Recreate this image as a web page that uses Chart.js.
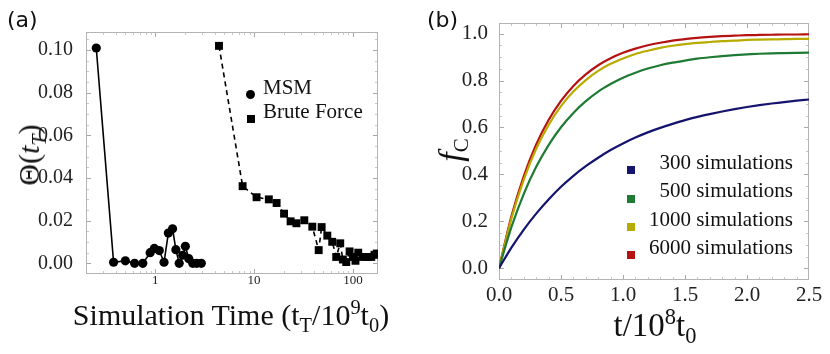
<!DOCTYPE html>
<html><head><meta charset="utf-8">
<script src="https://cdn.jsdelivr.net/npm/chart.js@4.4.1/dist/chart.umd.min.js"></script>
<style>
html,body{margin:0;padding:0;background:#fff;}
#wrap{position:relative;width:830px;height:354px;overflow:hidden;font-family:'Liberation Serif','Times New Roman',serif;color:#111;}
canvas{position:absolute;top:0;}
.t{position:absolute;white-space:nowrap;line-height:1;}
.sub{font-size:0.68em;position:relative;top:0.32em;}
.sup{font-size:0.68em;position:relative;top:-0.55em;}
.mk{position:absolute;}
</style></head><body>
<div id="wrap">
<canvas id="ca" width="420" height="354" style="left:0px"></canvas>
<canvas id="cb" width="410" height="354" style="left:420px"></canvas>

<div class="t" style="left:7px;top:9px;font-family:'DejaVu Sans',sans-serif;font-size:22px;">(a)</div>
<div class="t" style="left:427px;top:9px;font-family:'DejaVu Sans',sans-serif;font-size:22px;">(b)</div>

<div class="t" style="left:29px;top:155px;font-size:30px;transform:translate(-50%,-50%) rotate(-90deg);">Θ(<i>t</i><span class="sub"><i>T</i></span>)</div>
<div class="t" style="left:231px;top:300px;font-size:30px;transform:translateX(-50%);">Simulation Time (t<span class="sub">T</span>/10<span class="sup">9</span>t<span class="sub">0</span>)</div>

<div class="t" style="left:451px;top:150px;font-size:34px;transform:translate(-50%,-50%) rotate(-90deg);"><i>f</i><span style="font-size:21px;position:relative;top:0.3em;">C</span></div>
<div class="t" style="left:655px;top:309px;font-size:33px;transform:translateX(-50%);">t/10<span class="sup">8</span>t<span class="sub">0</span></div>

<!-- legend (a) -->
<div class="mk" style="left:246px;top:90px;width:9px;height:9px;border-radius:50%;background:#000;"></div>
<div class="t" style="left:263px;top:77px;font-size:21px;">MSM</div>
<div class="mk" style="left:247px;top:115px;width:8px;height:8px;background:#000;"></div>
<div class="t" style="left:263px;top:101px;font-size:21px;">Brute Force</div>

<!-- legend (b) -->
<div class="mk" style="left:627px;top:166px;width:8px;height:8px;background:#14146e;"></div>
<div class="t" style="right:37px;top:152px;font-size:21px;">300 simulations</div>
<div class="mk" style="left:627px;top:195px;width:8px;height:8px;background:#1f7a33;"></div>
<div class="t" style="right:37px;top:180px;font-size:21px;">500 simulations</div>
<div class="mk" style="left:627px;top:223px;width:8px;height:8px;background:#b8ab00;"></div>
<div class="t" style="right:37px;top:209px;font-size:21px;">1000 simulations</div>
<div class="mk" style="left:627px;top:251px;width:8px;height:8px;background:#b51212;"></div>
<div class="t" style="right:37px;top:237px;font-size:21px;">6000 simulations</div>
</div>

<script>
// ---------- Panel (a) data ----------
const msmX = [0.254, 0.38, 0.50, 0.62, 0.75, 0.89, 0.98, 1.10, 1.23, 1.36, 1.50, 1.62, 1.75, 1.90, 2.02, 2.19, 2.40, 2.63, 2.93];
const msmY = [0.101, 0.0005, 0.0012, 0.0, 0.0, 0.005, 0.007, 0.006, 0.0005, 0.0142, 0.0162, 0.0064, 0.0, 0.0038, 0.008, 0.0022, 0.0, 0.0, 0.0];

const bfX = [4.42, 7.66, 10.6, 14.1, 16.9, 20.1, 23.4, 26.8, 32.2, 38.8, 45.0, 48.2, 55.0, 61.7, 67.7, 74.3, 79.0, 85.5, 92.4, 100, 106, 113, 126, 139, 153, 165, 174];
const bfY = [0.102, 0.0362, 0.031, 0.030, 0.0283, 0.0233, 0.0197, 0.0188, 0.0202, 0.0172, 0.0062, 0.0170, 0.0130, 0.0101, 0.0030, 0.0094, 0.0018, 0.0006, 0.0056, 0.0030, 0.0012, 0.0050, 0.0030, 0.0030, 0.0030, 0.0040, 0.0046];

const xTicksA = [1, 10, 100];
const yTicksA = [0, 0.02, 0.04, 0.06, 0.08, 0.10];

// ---------- Panel (b) data ----------
const tB = [0, 0.1, 0.2, 0.3, 0.4, 0.5, 0.6, 0.7, 0.8, 0.9, 1.0, 1.1, 1.2, 1.3, 1.4, 1.5, 1.6, 1.7, 1.8, 1.9, 2.0, 2.1, 2.2, 2.3, 2.4, 2.5];
const sim300 = [0, 0.088, 0.165, 0.233, 0.293, 0.347, 0.394, 0.435, 0.471, 0.504, 0.532, 0.557, 0.579, 0.598, 0.615, 0.631, 0.645, 0.657, 0.668, 0.678, 0.687, 0.695, 0.702, 0.708, 0.714, 0.719];
const sim500 = [0, 0.175, 0.317, 0.432, 0.525, 0.601, 0.662, 0.712, 0.753, 0.785, 0.812, 0.833, 0.851, 0.865, 0.876, 0.885, 0.893, 0.899, 0.904, 0.908, 0.911, 0.914, 0.916, 0.917, 0.918, 0.919];
const sim1000 = [0, 0.212, 0.378, 0.509, 0.611, 0.691, 0.753, 0.802, 0.841, 0.871, 0.894, 0.913, 0.927, 0.939, 0.948, 0.955, 0.960, 0.964, 0.968, 0.970, 0.973, 0.974, 0.975, 0.976, 0.977, 0.977];
const sim6000 = [0, 0.221, 0.393, 0.528, 0.632, 0.713, 0.777, 0.826, 0.865, 0.895, 0.918, 0.936, 0.950, 0.961, 0.970, 0.976, 0.982, 0.986, 0.989, 0.991, 0.993, 0.994, 0.995, 0.996, 0.996, 0.997];
const seriesLabelsB = ['300 simulations', '500 simulations', '1000 simulations', '6000 simulations'];
const xTicksB = [0, 0.5, 1.0, 1.5, 2.0, 2.5];
const yTicksB = [0, 0.2, 0.4, 0.6, 0.8, 1.0];

// ---------- frame plugin ----------
const framePlugin = {
  id: 'frame',
  beforeDatasetsDraw(chart, args, o) {
    const {ctx, chartArea: a, scales} = chart;
    const xs = scales.x, ys = scales.y;
    ctx.save();
    ctx.lineWidth = 1;
    const drawX = (vals, len, col) => {
      ctx.strokeStyle = col;
      ctx.beginPath();
      vals.forEach(v => {
        const px = Math.round(xs.getPixelForValue(v)) + 0.5;
        if (px < a.left + 1 || px > a.right - 1) return;
        ctx.moveTo(px, a.bottom); ctx.lineTo(px, a.bottom - len);
        ctx.moveTo(px, a.top); ctx.lineTo(px, a.top + len);
      });
      ctx.stroke();
    };
    const drawY = (vals, len, col) => {
      ctx.strokeStyle = col;
      ctx.beginPath();
      vals.forEach(v => {
        const py = Math.round(ys.getPixelForValue(v)) + 0.5;
        if (py < a.top + 1 || py > a.bottom - 1) return;
        ctx.moveTo(a.left, py); ctx.lineTo(a.left + len, py);
        ctx.moveTo(a.right, py); ctx.lineTo(a.right - len, py);
      });
      ctx.stroke();
    };
    drawX(o.xMinor, 3, '#c8c8c8');
    drawY(o.yMinor, 3, '#c8c8c8');
    drawX(o.xMajor, 5, '#a8a8a8');
    drawY(o.yMajor, 5, '#a8a8a8');
    ctx.strokeStyle = '#b4b4b4';
    ctx.strokeRect(a.left + 0.5, a.top + 0.5, a.right - a.left - 1, a.bottom - a.top - 1);
    ctx.restore();
  }
};

function range(a, b, s) { const r = []; for (let v = a; v <= b + 1e-9; v += s) r.push(+v.toFixed(4)); return r; }
const logMinor = [];
[0.1, 1, 10, 100].forEach(d => { for (let k = 2; k <= 9; k++) logMinor.push(d * k); });

const SERIF = 'Liberation Serif';
Chart.defaults.font.family = SERIF;

function build() {
  new Chart(document.getElementById('ca'), {
    type: 'scatter',
    data: {
      datasets: [
        {label: 'MSM', data: msmX.map((x, i) => ({x, y: msmY[i]})), showLine: true,
         borderColor: '#000', backgroundColor: '#000', borderWidth: 1.6,
         pointStyle: 'circle', pointRadius: 4.6, pointHoverRadius: 4.6, pointBorderWidth: 0},
        {label: 'Brute Force', data: bfX.map((x, i) => ({x, y: bfY[i]})), showLine: true,
         borderColor: '#000', backgroundColor: '#000', borderWidth: 1.6, borderDash: [5, 4],
         pointStyle: 'rect', pointRadius: 5.6, pointHoverRadius: 5.6, pointBorderWidth: 0}
      ]
    },
    options: {
      responsive: false, animation: false, events: [],
      layout: {padding: {left: 0, top: 32, right: 420 - 378, bottom: 0}},
      plugins: {legend: {display: false}, tooltip: {enabled: false},
        frame: {xMajor: xTicksA, xMinor: logMinor, yMajor: yTicksA, yMinor: range(0, 0.105, 0.005)}},
      scales: {
        x: {type: 'logarithmic', min: 0.2, max: 179,
          grid: {display: false}, border: {display: false},
          afterBuildTicks: s => { s.ticks = xTicksA.map(v => ({value: v})); },
          ticks: {font: {family: SERIF, size: 13}, color: '#222', padding: -9,
            autoSkip: false, maxRotation: 0, callback: v => String(v)},
          afterFit: s => { s.height = 354 - 274; }},
        y: {min: -0.005, max: 0.1085,
          grid: {display: false}, border: {display: false},
          afterBuildTicks: s => { s.ticks = yTicksA.map(v => ({value: v})); },
          ticks: {font: {family: SERIF, size: 20}, color: '#222', padding: 5, callback: v => v.toFixed(2)},
          afterFit: s => { s.width = 86; }}
      }
    },
    plugins: [framePlugin]
  });

  const colorsB = ['#14146e', '#1f7a33', '#b8ab00', '#b51212'];
  const valsB = [sim300, sim500, sim1000, sim6000];

  new Chart(document.getElementById('cb'), {
    type: 'line',
    data: {
      datasets: valsB.map((arr, k) => ({
        label: seriesLabelsB[k], data: tB.map((t, i) => ({x: t, y: arr[i]})),
        borderColor: colorsB[k], backgroundColor: colorsB[k], borderWidth: 2.2,
        pointRadius: 0, cubicInterpolationMode: 'monotone', fill: false
      }))
    },
    options: {
      responsive: false, animation: false, events: [],
      layout: {padding: {left: 0, top: 23, right: 410 - 389, bottom: 0}},
      plugins: {legend: {display: false}, tooltip: {enabled: false},
        frame: {xMajor: xTicksB, xMinor: range(0, 2.5, 0.1), yMajor: yTicksB, yMinor: range(0, 1.05, 0.05)}},
      scales: {
        x: {type: 'linear', min: 0, max: 2.5,
          grid: {display: false}, border: {display: false},
          afterBuildTicks: s => { s.ticks = xTicksB.map(v => ({value: v})); },
          ticks: {font: {family: SERIF, size: 21}, color: '#222', padding: -5, autoSkip: false, maxRotation: 0,
            callback: v => v.toFixed(1)},
          afterFit: s => { s.height = 354 - 280; }},
        y: {min: -0.05, max: 1.045,
          grid: {display: false}, border: {display: false},
          afterBuildTicks: s => { s.ticks = yTicksB.map(v => ({value: v})); },
          ticks: {font: {family: SERIF, size: 21}, color: '#222', padding: 3, callback: v => v.toFixed(1)},
          afterFit: s => { s.width = 79; }}
      }
    },
    plugins: [framePlugin]
  });
}

if (document.fonts && document.fonts.load) {
  Promise.all([document.fonts.load('20px "Liberation Serif"'), document.fonts.load('13px "Liberation Serif"')])
    .then(build, build);
} else { build(); }
</script>
</body></html>
